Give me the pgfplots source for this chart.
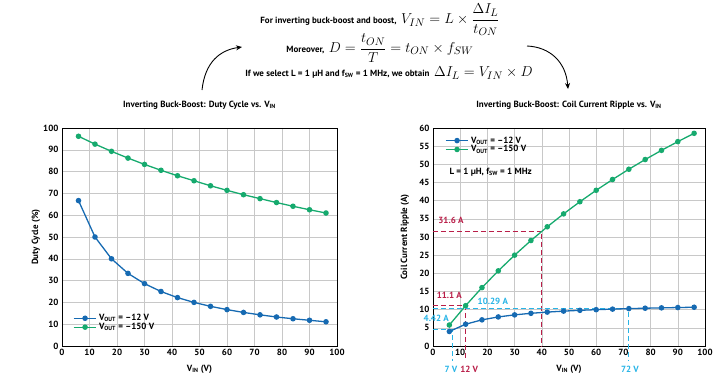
\documentclass[border=0pt]{standalone}
\usepackage{fontspec}
\setmainfont{PT Sans}
\usepackage{pgfplots}
\pgfplotsset{compat=1.18}
\usetikzlibrary{arrows.meta}
\definecolor{cblue}{RGB}{22,106,178}
\definecolor{cgreen}{RGB}{22,170,110}
\definecolor{ccrim}{RGB}{185,30,72}
\definecolor{ccyan}{RGB}{40,180,230}
\definecolor{cgrid}{RGB}{200,200,200}
\newcommand{\sm}{\fontsize{9}{10}\selectfont\bfseries}
\newcommand{\mf}{\fontsize{15}{17}\selectfont}
\pgfplotsset{
  myax/.style={
    scale only axis, clip=false,
    xmin=0, xmax=100, xtick={0,10,...,100},
    grid=major, major grid style={cgrid, line width=0.6pt},
    axis line style={black, line width=0.9pt},
    major tick length=0pt,
    tick label style={font=\sm},
    /pgf/number format/assume math mode=true,
    label style={font=\sm},
    xlabel={V\textsubscript{IN} (V)},
    xlabel style={at={(axis description cs:0.5,0)}, anchor=center, yshift=-23bp},
    legend style={draw=none, fill=none, font=\sm, cells={anchor=west}, row sep=-3pt, inner sep=1pt},
    legend image code/.code={\draw[mark repeat=2,mark phase=2,##1] plot coordinates {(0cm,0cm) (0.4cm,0cm) (0.8cm,0cm)};},
    every axis plot/.append style={line width=1.3pt, mark=*, mark size=2.1pt},
  }
}
\begin{document}
\begin{tikzpicture}[x=1bp,y=1bp]
\path[use as bounding box] (0,0) rectangle (718,379);

% top text
\node[font=\sm] at (380,379-20) {For inverting buck-boost and boost,\enspace{\mf$V_{IN} = L\times\displaystyle\frac{\Delta I_L}{t_{ON}}$}};
\node[font=\sm] at (380,379-48) {Moreover,\enspace{\mf$D = \displaystyle\frac{t_{ON}}{T} = t_{ON}\times f_{SW}$}};
\node[font=\sm] at (389,379-73) {If we select L = 1 µH and f\textsubscript{SW} = 1 MHz, we obtain\enspace{\mf$\Delta I_L = V_{IN}\times D$}};
\draw[-{Stealth[length=6pt,width=5pt]}, line width=0.9pt] (202,379-90) .. controls (205,379-62) and (220,379-50) .. (242,379-47);
\draw[-{Stealth[length=6pt,width=5pt]}, line width=0.9pt] (527,379-46) .. controls (550,379-47) and (566,379-62) .. (568,379-89);

% left axis
\begin{axis}[myax, at={(62bp,33bp)}, anchor=south west, width=275bp, height=218bp,
  ymin=0, ymax=100, ytick={0,10,...,100},
  legend style={at={(rel axis cs:0.036,0.16)}, anchor=north west},
]
\node[font=\sm, anchor=center] at (axis description cs:0.5,1) [yshift=23bp] {Inverting Buck-Boost: Duty Cycle vs. V\textsubscript{IN}};
\node[font=\sm, anchor=center, xshift=-26bp, rotate=90] at (axis description cs:0,0.5) {Duty Cycle (\%)};
\addplot[cblue] coordinates {(6,66.7)(12,50.0)(18,40.0)(24,33.3)(30,28.6)(36,25.0)(42,22.2)(48,20.0)(54,18.2)(60,16.7)(66,15.4)(72,14.3)(78,13.3)(84,12.5)(90,11.8)(96,11.1)};
\addlegendentry{V\textsubscript{OUT} = –12 V}
\addplot[cgreen] coordinates {(6,96.2)(12,92.6)(18,89.3)(24,86.2)(30,83.3)(36,80.6)(42,78.1)(48,75.8)(54,73.5)(60,71.4)(66,69.4)(72,67.6)(78,65.8)(84,64.1)(90,62.5)(96,61.0)};
\addlegendentry{V\textsubscript{OUT} = –150 V}
\end{axis}

% right axis
\begin{axis}[myax, at={(433bp,33bp)}, anchor=south west, width=272bp, height=218bp,
  ymin=0, ymax=60, ytick={0,5,...,60},
  legend style={at={(rel axis cs:0.04,0.975)}, anchor=north west},
]
\node[font=\sm, anchor=center] at (axis description cs:0.5,1) [yshift=23bp] {Inverting Buck-Boost: Coil Current Ripple vs. V\textsubscript{IN}};
\node[font=\sm, anchor=center, xshift=-28bp, rotate=90] at (axis description cs:0,0.5) {Coil Current Ripple (A)};
\node[font=\sm, anchor=west] at (axis cs:4.8,47.9) {L = 1 µH, f\textsubscript{SW} = 1 MHz};
% annotations
\tikzset{dsh/.style={dash pattern=on 5pt off 3pt, line width=0.9pt}}
\draw[draw=ccrim, dsh] (axis cs:0,31.6) -- (axis cs:40,31.6) -- (axis cs:40,0);
\draw[draw=ccrim, dsh] (axis cs:0,11.1) -- (axis cs:12,11.1) -- (axis cs:12,-4);
\draw[draw=ccyan, dsh] (axis cs:0,10.29) -- (axis cs:72,10.29) -- (axis cs:72,-4);
\draw[draw=ccyan, dsh] (axis cs:0,4.42) -- (axis cs:7,4.42) -- (axis cs:7,-4);
\node[font=\sm, text=ccrim] at (axis cs:6.6,34.6) {31.6 A};
\node[font=\sm, text=ccrim] at (axis cs:6,14) {11.1 A};
\node[font=\sm, text=ccyan] at (axis cs:22,12.4) {10.29 A};
\node[font=\sm, text=ccyan] at (axis cs:1.2,7.6) {4.42 A};
\node[font=\sm, text=ccyan] at (axis cs:6.6,-6.3) {7 V};
\node[font=\sm, text=ccrim] at (axis cs:13.3,-6.3) {12 V};
\node[font=\sm, text=ccyan] at (axis cs:72.4,-6.3) {72 V};
\addplot[cblue] coordinates {(6,4.0)(12,6.0)(18,7.2)(24,8.0)(30,8.57)(36,9.0)(42,9.33)(48,9.6)(54,9.82)(60,10.0)(66,10.15)(72,10.29)(78,10.4)(84,10.5)(90,10.59)(96,10.67)};
\addlegendentry{V\textsubscript{OUT} = –12 V}
\addplot[cgreen] coordinates {(6,5.77)(12,11.11)(18,16.07)(24,20.69)(30,25.0)(36,29.03)(42,32.81)(48,36.36)(54,39.71)(60,42.86)(66,45.83)(72,48.65)(78,51.32)(84,53.85)(90,56.25)(96,58.54)};
\addlegendentry{V\textsubscript{OUT} = –150 V}
\end{axis}
\end{tikzpicture}
\end{document}
